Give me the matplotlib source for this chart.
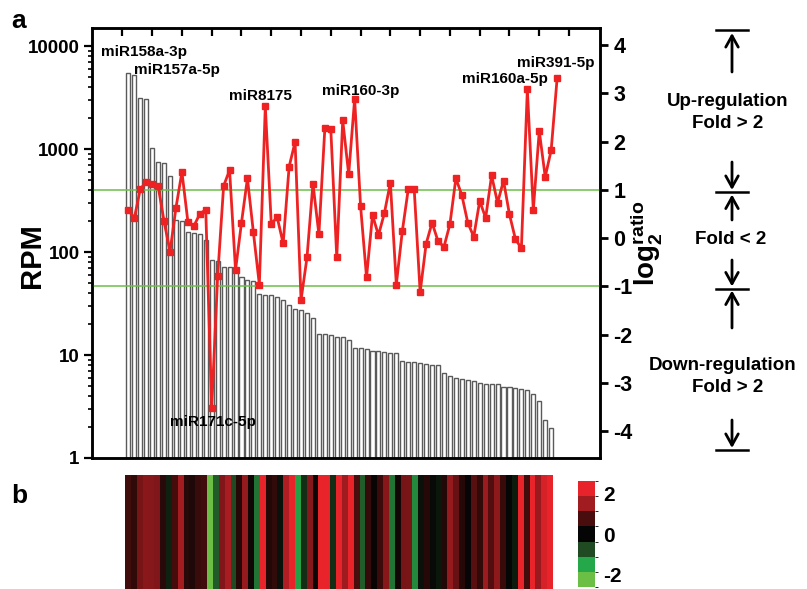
import numpy as np
import matplotlib
matplotlib.use("Agg")
import matplotlib.pyplot as plt
from matplotlib.colors import LinearSegmentedColormap, ListedColormap, BoundaryNorm
from matplotlib.cm import ScalarMappable
from matplotlib.ticker import FixedLocator, FixedFormatter, LogLocator, NullFormatter

plt.rcParams['font.family'] = ['Liberation Sans', 'DejaVu Sans']
plt.rcParams['font.weight'] = 'bold'
plt.rcParams['mathtext.fontset'] = 'custom'
plt.rcParams['mathtext.rm'] = 'Liberation Sans:bold'
plt.rcParams['mathtext.bf'] = 'Liberation Sans:bold'
plt.rcParams['mathtext.it'] = 'Liberation Sans:bold'

# RPM of each miRNA (sorted)
rpm = [5430, 5230, 3150, 3080, 1020, 748, 731, 553, 205, 201,
       156, 153, 150, 131, 83.6, 82.4, 72.3, 71.5, 69.5, 56.8,
       53.5, 52.6, 39.1, 38.5, 38.0, 36.8, 34.2, 30.6, 27.8, 27.3,
       25.8, 22.7, 16.0, 15.9, 15.6, 15.1, 15.0, 14.0, 11.6, 11.6,
       11.4, 11.0, 10.9, 10.7, 10.4, 10.4, 8.74, 8.61, 8.49, 8.42,
       8.23, 7.94, 7.94, 6.73, 6.25, 5.94, 5.89, 5.72, 5.55, 5.31,
       5.27, 5.27, 5.19, 4.92, 4.89, 4.75, 4.68, 4.57, 4.15, 3.58,
       2.34, 1.94]

# log2 ratio (red line and heat map b)
log2_ratio = [0.59, 0.41, 1.01, 1.17, 1.13, 1.08, 0.35, -0.28, 0.63, 1.37,
              0.34, 0.25, 0.50, 0.59, -3.51, -0.79, 1.08, 1.41, -0.66, 0.32,
              1.24, 0.12, -0.96, 2.73, 0.30, 0.43, -0.11, 1.48, 1.99, -1.28,
              -0.40, 1.13, 0.08, 2.28, 2.25, -0.40, 2.44, 1.32, 2.88, 0.66,
              -0.81, 0.48, 0.06, 0.52, 1.15, -0.96, 0.14, 1.01, 1.02, -1.12,
              -0.12, 0.32, -0.06, -0.18, 0.29, 1.24, 0.89, 0.32, 0.03, 0.77,
              0.42, 1.30, 0.73, 1.19, 0.49, -0.02, -0.21, 3.08, 0.58, 2.22,
              1.27, 1.82, 3.31]

mir_names = ['miR158a-3p', 'miR157a-5p', 'miR8175', 'miR160-3p',
             'miR160a-5p', 'miR391-5p', 'miR171c-5p']
# label spots (x index, log2 value)
mir_pos = [(3.6, 3.85), (9.2, 3.48), (23.2, 2.94), (40.0, 3.04),
           (64.2, 3.29), (72.75, 3.63), (15.2, -3.80)]

fold_lines = [1, -1]

W, H = 807, 589
fig = plt.figure(figsize=(W / 100, H / 100), dpi=100)
ax = fig.add_axes([92 / W, 1 - 458 / H, 508 / W, 430 / H])

x_bar = np.arange(1, len(rpm) + 1)
x_line = np.arange(1, len(log2_ratio) + 1)

ax.bar(x_bar, rpm, width=0.68, color='white', edgecolor='#5a5a5a',
       linewidth=1.0, log=True)
ax.set_yscale('log')
ax.set_ylim(1, 15000)
ax.set_xlim(-5.1, 80.2)
ax.yaxis.set_major_locator(FixedLocator([1, 10, 100, 1000, 10000]))
ax.yaxis.set_major_formatter(FixedFormatter(['1', '10', '100', '1000', '10000']))
ax.yaxis.set_minor_locator(LogLocator(base=10, subs=np.arange(2, 10)))
ax.yaxis.set_minor_formatter(NullFormatter())
ax.tick_params(axis='y', which='major', direction='out', length=5.5, width=1.6,
               labelsize=13.5)
ax.tick_params(axis='y', which='minor', direction='out', length=3, width=1.2)
ax.xaxis.set_ticks_position('top')
ax.set_xticks(np.arange(0, 80, 5))
ax.tick_params(axis='x', direction='in', length=5.5, width=1.6, labeltop=False,
               labelbottom=False)
for s in ax.spines.values():
    s.set_linewidth(1.8)
ax.set_ylabel('RPM', fontsize=21, fontweight='bold')
ax.yaxis.set_label_coords(-0.09, 0.47)

ax2 = ax.twinx()
ax2.set_ylim(-4.55, 4.35)
for v in fold_lines:
    ax2.axhline(v, color='#6cbf4a', lw=1.1, zorder=1)
ax2.plot(x_line, log2_ratio, color='#ee2222', lw=2.0, marker='s', ms=4,
         mec='#ee2222', mfc='#ee2222', zorder=3)
ax2.set_yticks(np.arange(-4, 5))
ax2.set_yticklabels([str(v) for v in range(-4, 5)])
ax2.tick_params(axis='y', direction='out', length=6, width=2, labelsize=15.5)
for s in ax2.spines.values():
    s.set_linewidth(1.8)
for name, (px, py) in zip(mir_names, mir_pos):
    ax2.text(px, py, name, ha='center', va='center', fontsize=11,
             fontweight='bold')

# overlay in pixel coordinates for labels and the fold guide
ov = fig.add_axes([0, 0, 1, 1])
ov.set_xlim(0, W)
ov.set_ylim(H, 0)
ov.axis('off')
ov.text(19, 21, 'a', fontsize=19, fontweight='bold', ha='center', va='center')
ov.text(19, 496, 'b', fontsize=19, fontweight='bold', ha='center', va='center')
ov.text(646, 243, r'$\mathbf{log_{2}^{ratio}}$', fontsize=20, rotation=90,
        ha='center', va='center')

cx = 732
for yy in [30, 192, 288.5, 450]:
    ov.plot([cx - 16, cx + 16], [yy, yy], color='black', lw=1.8)
arrows = [(72, 33), (162, 190), (220, 194.5), (260, 286.5), (328, 290.5), (420, 448)]
for y0, y1 in arrows:
    ov.annotate('', xy=(cx, y1), xytext=(cx, y0),
                arrowprops=dict(arrowstyle='->,head_length=0.45,head_width=0.25',
                                lw=2, color='black', shrinkA=0, shrinkB=0,
                                mutation_scale=18))
ov.text(728, 102, 'Up-regulation', fontsize=13.5, ha='center', va='center')
ov.text(728, 124, 'Fold > 2', fontsize=13.5, ha='center', va='center')
ov.text(731, 240, 'Fold < 2', fontsize=13.5, ha='center', va='center')
ov.text(723, 365, 'Down-regulation', fontsize=13.5, ha='center', va='center')
ov.text(728, 387, 'Fold > 2', fontsize=13.5, ha='center', va='center')

# heat map b
hm_colors = ['#6cbf45', '#25a84a', '#1f4a22', '#050505', '#4a0d0d', '#a01c20', '#e8232a']
cmap_cont = LinearSegmentedColormap.from_list('gkr', hm_colors)
hm = fig.add_axes([125 / W, 0, 428 / W, 114 / H])
hm.imshow(np.array(log2_ratio)[None, :], aspect='auto', cmap=cmap_cont,
          vmin=-2.0, vmax=2.0, interpolation='nearest')
hm.axis('off')

cax = fig.add_axes([578 / W, 2 / H, 17 / W, 106 / H])
bounds = np.linspace(-2.625, 2.625, 8)
sm = ScalarMappable(norm=BoundaryNorm(bounds, 7), cmap=ListedColormap(hm_colors))
cb = fig.colorbar(sm, cax=cax, ticks=[-2, 0, 2])
cb.outline.set_visible(False)
cb.ax.tick_params(length=0, labelsize=15, pad=6)
cb.ax.set_yticklabels(['-2', '0', '2'])

fig.savefig('out.png', dpi=100)
